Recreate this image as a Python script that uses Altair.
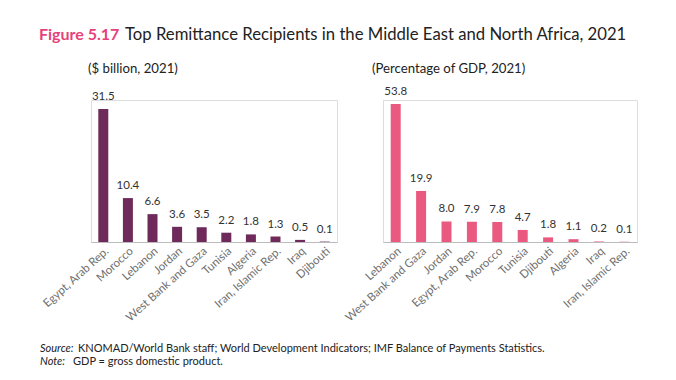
import altair as alt
import pandas as pd

left_countries = ["Egypt, Arab Rep.", "Morocco", "Lebanon", "Jordan", "West Bank and Gaza",
                  "Tunisia", "Algeria", "Iran, Islamic Rep.", "Iraq", "Djibouti"]
left_values = [31.5, 10.4, 6.6, 3.6, 3.5, 2.2, 1.8, 1.3, 0.5, 0.1]

right_countries = ["Lebanon", "West Bank and Gaza", "Jordan", "Egypt, Arab Rep.", "Morocco",
                   "Tunisia", "Djibouti", "Algeria", "Iraq", "Iran, Islamic Rep."]
right_values = [53.8, 19.9, 8.0, 7.9, 7.8, 4.7, 1.8, 1.1, 0.2, 0.1]

FONT = "Lato"
H = 142

left_df = pd.DataFrame({"country": left_countries, "value": left_values})
right_df = pd.DataFrame({"country": right_countries, "value": right_values})


def panel(df, color, ymax, width, subtitle, sub_dx):
    x = alt.X("country:N", sort=list(df["country"]), title=None,
              scale=alt.Scale(paddingInner=0, paddingOuter=0),
              axis=alt.Axis(labelAngle=-42, labelAlign="right", labelBaseline="top",
                            labelFont=FONT, labelFontSize=11.5, labelColor="#707070",
                            ticks=False, domainColor="#bbbbbb", labelPadding=3))
    y = alt.Y("value:Q", scale=alt.Scale(domain=[0, ymax]), axis=None)
    base = alt.Chart(df).encode(x=x, y=y)
    bars = base.mark_bar(size=10, color=color)
    labels = base.mark_text(dy=-7, font=FONT, fontSize=11.5, color="#333333",
                            baseline="bottom").encode(text=alt.Text("value:Q", format=".1f"))
    sub = alt.Chart(pd.DataFrame({"t": [subtitle]})).mark_text(
        align="left", baseline="alphabetic", font=FONT, fontSize=13.2, color="#222222"
    ).encode(text="t:N", x=alt.value(sub_dx), y=alt.value(-27))
    return alt.layer(bars, labels, sub).properties(width=width, height=H)


left = panel(left_df, "#6e2a5a", 31.5 * H / 133, 246, "($ billion, 2021)", -3)
right = panel(right_df, "#ea5a80", 53.8 * H / 138, 254, "(Percentage of GDP, 2021)", -11)

txt = pd.DataFrame({"t": ["x"]})
def ann(text, dx, dy, size, color="#222222", weight="normal", style="normal"):
    return alt.Chart(txt).mark_text(align="left", baseline="alphabetic", font=FONT,
                                    fontSize=size, color=color, fontWeight=weight,
                                    fontStyle=style).encode(
        text=alt.value(text), x=alt.value(dx), y=alt.value(dy))

annots = [
    ann("Figure 5.17", -52, -60, 16, color="#e6427a", weight="bold"),
    ann("Top Remittance Recipients in the Middle East and North Africa, 2021", 34, -60, 16.7),
    ann("Source:", -51, 252, 11, style="italic"),
    ann("KNOMAD/World Bank staff; World Development Indicators; IMF Balance of Payments Statistics.", -13, 252, 11),
    ann("Note:", -51, 265, 11, style="italic"),
    ann("GDP = gross domestic product.", -18, 265, 11),
]

left_full = alt.layer(left, *annots).properties(width=246, height=H)

chart = alt.hconcat(left_full, right, spacing=46, bounds="flush").properties(
    padding={"left": 30, "top": 18, "right": 5, "bottom": 5}
).configure_view(stroke=None).configure(background="white")

chart.save("out.html", embed_options={"renderer": "svg", "actions": False})
